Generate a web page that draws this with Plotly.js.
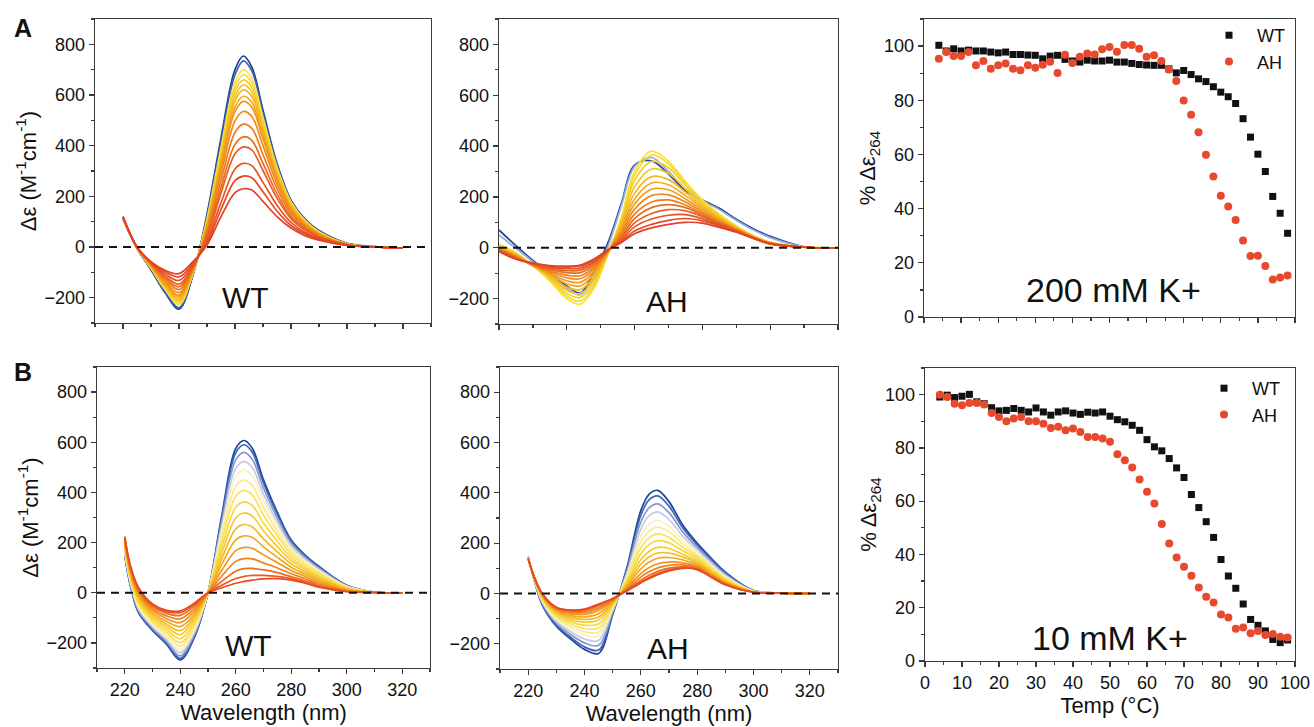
<!DOCTYPE html>
<html><head><meta charset="utf-8">
<script src="https://cdn.plot.ly/plotly-3.0.1.min.js"></script>
<style>html,body{margin:0;padding:0;background:#fff;}#chart{width:1314px;height:727px;}</style>
</head><body><div id="chart"></div>
<script>
// ---------------- DATA ----------------
// Panel A, WT (200 mM K+): wavelength grid and spectra (low T -> high T)
const wlA_WT = [220,225,230,235,240,245,250,255,260,263,266,270,275,280,285,290,300,310,320];
const cdA_WT = [
 [110,-5,-90,-180,-245,-110,130,430,700,754,710,540,330,185,110,65,15,2,-5],
 [112,-5,-88,-176,-240,-108,122,415,680,735,695,530,325,182,108,63,14,1,-5],
 [113,-4,-84,-168,-228,-104,110,390,650,700,665,510,315,178,105,60,13,1,-5],
 [114,-4,-82,-164,-222,-102,104,378,632,680,647,497,308,174,102,58,12,1,-5],
 [114,-4,-80,-160,-216,-100,98,365,614,660,630,485,300,170,100,56,12,1,-5],
 [115,-3,-78,-156,-210,-98,92,352,595,640,612,472,292,165,97,55,11,0,-5],
 [115,-3,-76,-152,-204,-96,86,340,577,620,594,458,284,160,94,53,11,0,-5],
 [116,-3,-74,-146,-196,-93,80,325,553,595,571,441,274,155,91,51,10,0,-5],
 [116,-3,-72,-142,-190,-91,74,312,535,575,552,427,266,150,88,50,10,0,-5],
 [117,-2,-70,-135,-180,-88,66,290,498,535,515,400,250,142,84,47,10,0,-5],
 [117,-2,-68,-127,-168,-84,56,262,452,485,468,365,230,132,78,44,9,0,-5],
 [118,-2,-66,-120,-157,-80,46,235,405,435,421,330,210,121,72,41,9,0,-5],
 [118,-1,-64,-114,-147,-76,38,212,368,395,383,302,193,112,67,38,8,0,-5],
 [119,-1,-62,-106,-132,-70,26,175,308,330,321,255,165,97,58,34,8,0,-5],
 [120,0,-60,-98,-118,-64,16,148,262,280,273,218,142,85,52,30,7,0,-5],
 [120,0,-58,-92,-105,-58,8,120,215,230,225,180,120,75,45,27,6,0,-5]
];
// Panel A, AH (200 mM K+)
const wlA_AH = [220,225,230,235,240,244,248,252,256,260,265,270,275,280,285,290,295,300,310,320];
const cdA_AH = [
 [70,8,-50,-100,-150,-178,-95,15,170,325,342,290,225,188,155,112,75,45,4,0],
 [50,-2,-55,-108,-160,-185,-118,0,160,320,355,300,232,185,150,108,70,40,4,0],
 [15,-20,-70,-130,-200,-222,-160,-30,115,300,380,340,260,188,132,86,48,22,3,0],
 [10,-22,-70,-125,-190,-210,-150,-28,110,285,365,330,255,183,128,84,47,21,3,0],
 [5,-25,-70,-120,-180,-195,-140,-26,102,265,340,315,245,178,125,82,46,20,2,0],
 [2,-27,-70,-115,-168,-180,-128,-24,93,240,310,292,232,170,120,80,45,20,2,0],
 [0,-28,-70,-110,-155,-165,-115,-22,84,215,280,268,218,163,116,78,44,19,2,0],
 [-2,-30,-70,-105,-142,-150,-104,-20,75,192,255,248,205,156,112,76,43,19,2,0],
 [-4,-32,-70,-100,-130,-136,-94,-18,66,172,230,228,192,148,108,74,42,18,2,0],
 [-5,-34,-70,-95,-118,-122,-84,-16,58,152,205,208,180,141,104,72,41,18,2,0],
 [-6,-36,-68,-90,-108,-110,-76,-15,50,132,180,188,168,134,100,70,40,17,2,0],
 [-8,-38,-66,-85,-98,-98,-68,-14,42,115,158,170,158,128,97,69,40,17,2,0],
 [-10,-40,-64,-80,-90,-88,-60,-12,36,98,135,150,145,122,94,67,39,16,2,0],
 [-12,-42,-62,-76,-82,-80,-54,-11,30,82,113,128,130,114,90,66,38,16,2,0],
 [-14,-44,-60,-72,-76,-72,-48,-10,24,66,92,108,115,106,86,64,38,15,2,0],
 [-15,-45,-60,-70,-72,-68,-44,-10,20,55,78,92,100,97,80,61,37,15,2,0]
];
// Panel B, WT (10 mM K+)
const wlB = [220,222,225,230,235,240,245,250,255,260,263,266,270,275,280,285,290,300,310,320];
const cdB_WT = [
 [150,30,-80,-150,-205,-268,-180,0,310,575,607,575,450,320,210,150,105,30,3,0],
 [152,32,-77,-147,-201,-262,-176,0,301,558,590,559,438,312,205,147,102,29,3,0],
 [156,37,-72,-141,-194,-252,-168,0,286,530,560,531,417,298,197,141,98,28,3,0],
 [161,42,-65,-135,-185,-239,-160,0,267,496,524,498,392,281,186,134,93,26,3,0],
 [166,47,-59,-128,-177,-227,-151,0,249,462,489,465,367,265,176,126,88,25,3,0],
 [171,53,-52,-120,-167,-213,-141,0,228,424,449,427,339,246,165,118,82,23,2,0],
 [177,58,-45,-113,-157,-199,-131,0,207,385,408,389,310,227,153,110,76,21,2,0],
 [183,65,-37,-104,-146,-183,-120,0,184,341,362,347,278,205,140,101,69,19,2,0],
 [189,71,-29,-96,-135,-167,-109,0,161,298,318,305,247,184,128,92,62,17,2,0],
 [195,78,-20,-87,-125,-151,-98,0,137,255,272,262,215,163,115,83,56,15,2,0],
 [201,84,-12,-79,-114,-135,-87,0,114,211,227,220,183,141,102,74,49,12,2,0],
 [207,91,-4,-70,-103,-119,-75,0,90,168,181,177,151,120,89,65,42,10,1,0],
 [213,97,4,-62,-92,-104,-64,0,67,125,136,135,119,99,76,56,35,8,1,0],
 [218,103,11,-54,-82,-90,-54,0,46,86,96,97,91,80,64,48,29,6,1,0],
 [222,107,16,-49,-75,-79,-47,0,30,57,65,69,69,65,56,42,25,5,1,0],
 [225,110,20,-45,-70,-72,-42,0,20,38,45,50,55,56,50,38,22,4,1,0]
];
// Panel B, AH (10 mM K+)
const cdB_AH = [
 [146,60,-45,-130,-180,-222,-238,-84,100,330,395,410,365,270,200,140,85,12,2,0],
 [146,61,-42,-125,-173,-212,-225,-80,94,311,373,388,347,259,193,135,82,12,2,0],
 [145,62,-38,-118,-162,-196,-206,-74,86,284,341,356,321,243,183,128,77,11,2,0],
 [144,63,-33,-111,-151,-181,-187,-67,77,256,309,324,294,226,173,121,72,10,2,0],
 [143,64,-29,-103,-140,-165,-168,-61,68,228,276,291,267,210,163,113,67,10,2,0],
 [143,64,-25,-97,-130,-152,-153,-56,61,205,249,264,245,196,154,107,63,9,2,0],
 [142,65,-22,-91,-121,-139,-137,-51,54,181,222,237,223,182,146,101,59,8,1,0],
 [141,66,-18,-85,-112,-126,-121,-46,46,158,195,210,201,169,137,95,55,8,1,0],
 [141,67,-15,-79,-103,-114,-105,-41,39,135,168,183,179,155,129,89,51,7,1,0],
 [140,67,-12,-74,-95,-103,-93,-37,33,116,146,161,161,144,122,84,48,7,1,0],
 [140,68,-9,-70,-88,-93,-80,-32,27,98,125,140,143,133,115,80,45,6,1,0],
 [139,69,-6,-65,-81,-83,-67,-28,22,79,103,118,125,122,109,75,41,6,1,0],
 [139,69,-4,-61,-75,-75,-58,-25,17,65,87,102,112,114,104,71,39,6,1,0],
 [138,70,-2,-58,-70,-68,-50,-22,14,53,73,88,101,107,99,68,37,5,1,0],
 [138,70,-1,-56,-67,-64,-45,-21,11,46,64,79,94,102,96,66,35,5,1,0],
 [138,70,0,-55,-66,-62,-42,-20,10,42,60,75,90,100,95,65,35,5,1,0]
];
// Melting curves: temperature (°C) and % Δε264
const tempC = [4,6,8,10,12,14,16,18,20,22,24,26,28,30,32,34,36,38,40,42,44,46,48,50,52,54,56,58,60,62,64,66,68,70,72,74,76,78,80,82,84,86,88,90,92,94,96,98];
const meltA_WT = [100.3,98.2,99.0,98.2,98.5,98.2,98.2,97.8,97.5,97.8,96.9,96.9,96.7,96.6,95.3,96.3,96.6,95.1,94.5,94.1,94.8,94.5,94.5,94.8,94.1,94.1,93.6,93.2,93.0,92.9,92.9,91.6,90.1,91.0,89.5,87.9,86.9,85.0,83.0,81.3,78.8,73.2,66.4,60.1,53.7,44.5,38.3,30.9];
const meltA_AH = [95.3,97.8,96.3,96.3,97.8,92.9,94.5,91.6,92.9,93.6,91.6,91.1,92.9,92.0,93.1,94.2,90.1,96.8,93.8,96.1,97.3,96.9,98.8,99.7,97.9,100.4,100.4,99.0,96.1,96.6,94.5,91.4,87.1,79.9,74.7,68.2,59.9,51.9,44.8,40.8,35.8,28.2,22.5,22.6,18.8,13.8,14.6,15.3];
const meltB_WT = [99.1,99.8,98.9,99.4,100.1,97.3,96.6,95.1,93.9,94.1,94.8,94.1,93.5,95.0,93.5,92.3,93.5,93.9,93.1,92.6,93.4,93.1,93.5,91.9,90.6,89.8,88.5,86.6,83.1,80.4,78.9,76.0,72.5,68.9,62.5,57.6,52.3,46.4,38.1,31.9,27.3,21.4,15.6,13.4,11.3,8.1,6.9,7.9];
const meltB_AH = [100,99.1,96.6,96.0,96.9,96.9,96.3,93.1,91.6,90.0,91.0,91.6,90.0,90.0,89.1,87.5,87.9,86.6,87.3,86.0,84.1,84.1,83.5,82.3,77.6,75.4,72.6,68.1,63.5,59.1,51.4,44.1,38.9,35.4,32.0,27.6,24.1,22.0,17.5,16.3,12.1,12.6,10.4,11.3,9.8,10.1,9.1,8.8];
const seriesNames = ['WT','AH'];

// ---------------- STYLES ----------------
const colA_WT = ['#173e92','#3d62b3','#f8e34e','#f6d93c','#f5cd2e','#f4c124','#f3b41e','#f2a61b','#f0971a','#ee881b','#ec791c','#ea6b1e','#e85e20','#e65222','#e54824','#e34026'];
const colA_AH = ['#22469a','#98acd8','#f8e232','#f6da2c','#f5cf28','#f4c325','#f3b622','#f2a820','#f09a1f','#ee8b1e','#ec7c1f','#ea6d20','#e86022','#e65424','#e44a26','#e24226'];
const colB = ['#1b449c','#3f63b2','#8298cd','#c4cbe4','#fbf1c0','#faea90','#f8e260','#f7d83c','#f5cb2a','#f4ba24','#f2a820','#f0941e','#ee801e','#ec6c20','#e95a22','#e64a24'];
const F = '"Liberation Sans", Arial, sans-serif';
const W = 1314, H = 727;
const px = v => v / W, py = v => 1 - v / H;

const traces = [];
function addSpectra(wl, curves, cols, ax) {
  curves.forEach((c, i) => traces.push({
    type: 'scatter', mode: 'lines', x: wl, y: c, xaxis: 'x' + ax, yaxis: 'y' + ax,
    line: {color: cols[i], width: 1.7, shape: 'spline', smoothing: 1},
    showlegend: false, hoverinfo: 'skip'
  }));
}
addSpectra(wlA_WT, cdA_WT, colA_WT, '');
addSpectra(wlA_AH, cdA_AH, colA_AH, '2');
addSpectra(wlB, cdB_WT, colB, '4');
addSpectra(wlB, cdB_AH, colB, '5');

function addMelt(wt, ah, ax, leg) {
  traces.push({type:'scatter', mode:'markers', name: seriesNames[0], x: tempC, y: wt, xaxis:'x'+ax, yaxis:'y'+ax,
    marker:{symbol:'square', size:7, color:'#111'}, legend: leg});
  traces.push({type:'scatter', mode:'markers', name: seriesNames[1], x: tempC, y: ah, xaxis:'x'+ax, yaxis:'y'+ax,
    marker:{symbol:'circle', size:8, color:'#e8492c'}, legend: leg});
}
addMelt(meltA_WT, meltA_AH, '3', 'legend');
addMelt(meltB_WT, meltB_AH, '6', 'legend2');

const base = {showline:true, linecolor:'#3a3a3a', linewidth:1.3, mirror:true, ticks:'outside', ticklen:5,
  tickwidth:1.2, tickcolor:'#3a3a3a', showgrid:false, zeroline:false, fixedrange:true,
  tickfont:{family:F, size:18, color:'#111'}};
const titleFont = {family:F, size:22, color:'#111'};
function cdX(dom, anchor, labels, rng) {
  const o = Object.assign({}, base, {domain:dom, anchor:anchor, range: rng || [210,330], tick0:220, dtick:20,
    showticklabels: labels, minor:{dtick:10, ticklen:3, ticks:'outside', tickcolor:'#3a3a3a'}});
  if (labels) o.title = {text:'Wavelength (nm)', font:titleFont, standoff:3};
  return o;
}
function cdY(dom, anchor, withTitle) {
  const o = Object.assign({}, base, {domain:dom, anchor:anchor, range:[-300,900], tick0:0, dtick:200,
    minor:{dtick:100, ticklen:3, ticks:'outside', tickcolor:'#3a3a3a'}});
  if (withTitle) o.title = {text:'Δε (M<sup>-1</sup>cm<sup>-1</sup>)', font:titleFont, standoff:2};
  return o;
}
function meltX(dom, anchor, labels) {
  const o = Object.assign({}, base, {domain:dom, anchor:anchor, range:[0,100], tick0:0, dtick:10,
    showticklabels: labels, minor:{dtick:5, ticklen:3, ticks:'outside', tickcolor:'#3a3a3a'}});
  if (labels) o.title = {text:'Temp (°C)', font:titleFont, standoff:3};
  return o;
}
function meltY(dom, anchor) {
  return Object.assign({}, base, {domain:dom, anchor:anchor, range:[0,110], tick0:0, dtick:20,
    minor:{dtick:10, ticklen:3, ticks:'outside', tickcolor:'#3a3a3a'},
    title: {text:'% Δε<sub>264</sub>', font:titleFont, standoff:2}});
}

const dA1x=[px(95),px(431)], dA1y=[py(323),py(19)];
const dA2x=[px(499),px(838)], dA2y=[py(324),py(19)];
const dA3x=[px(924),px(1295)], dA3y=[py(317),py(19)];
const dB1x=[px(97),px(430)], dB1y=[py(668),py(367)];
const dB2x=[px(500),px(838)], dB2y=[py(669),py(367)];
const dB3x=[px(925),px(1295)], dB3y=[py(661),py(368)];

const zeroDash = ax => ({type:'line', xref:'x'+ax+' domain', yref:'y'+ax, x0:0, x1:1, y0:0, y1:0,
  line:{color:'#111', width:2, dash:'8px,6px'}, layer:'above'});

const ann = (x, y, text, size, bold) => ({xref:'paper', yref:'paper', x:px(x), y:py(y), text: bold ? '<b>'+text+'</b>' : text,
  showarrow:false, xanchor:'center', yanchor:'middle', font:{family:F, size:size, color:'#111'}});

const legFont = {family:F, size:18, color:'#111'};
const layout = {
  width:W, height:H, margin:{l:0,r:0,t:0,b:0}, paper_bgcolor:'#fff', plot_bgcolor:'#fff',
  font:{family:F, color:'#111'},
  xaxis: cdX(dA1x,'y',false), yaxis: cdY(dA1y,'x',true),
  xaxis2: cdX(dA2x,'y2',false,[220,320]), yaxis2: cdY(dA2y,'x2',false),
  xaxis3: meltX(dA3x,'y3',false), yaxis3: meltY(dA3y,'x3'),
  xaxis4: cdX(dB1x,'y4',true), yaxis4: cdY(dB1y,'x4',true),
  xaxis5: cdX(dB2x,'y5',true), yaxis5: cdY(dB2y,'x5',false),
  xaxis6: meltX(dB3x,'y6',true), yaxis6: meltY(dB3y,'x6'),
  shapes: [zeroDash(''), zeroDash('2'), zeroDash('4'), zeroDash('5')],
  annotations: [
    ann(23, 28, 'A', 25, true), ann(23, 372, 'B', 25, true),
    ann(245, 297, 'WT', 30), ann(667, 301, 'AH', 30),
    ann(248, 645, 'WT', 30), ann(668, 648, 'AH', 30),
    ann(1113, 290, '200 mM K+', 34), ann(1110, 638, '10 mM K+', 34)
  ],
  legend: {x:px(1201), y:py(17), xanchor:'left', yanchor:'top', bgcolor:'rgba(0,0,0,0)', borderwidth:0,
    itemwidth:46, font:legFont},
  legend2: {x:px(1196), y:py(370), xanchor:'left', yanchor:'top', bgcolor:'rgba(0,0,0,0)', borderwidth:0,
    itemwidth:46, font:legFont},
  showlegend: true
};
Plotly.newPlot('chart', traces, layout, {staticPlot:true, displayModeBar:false});
</script></body></html>
